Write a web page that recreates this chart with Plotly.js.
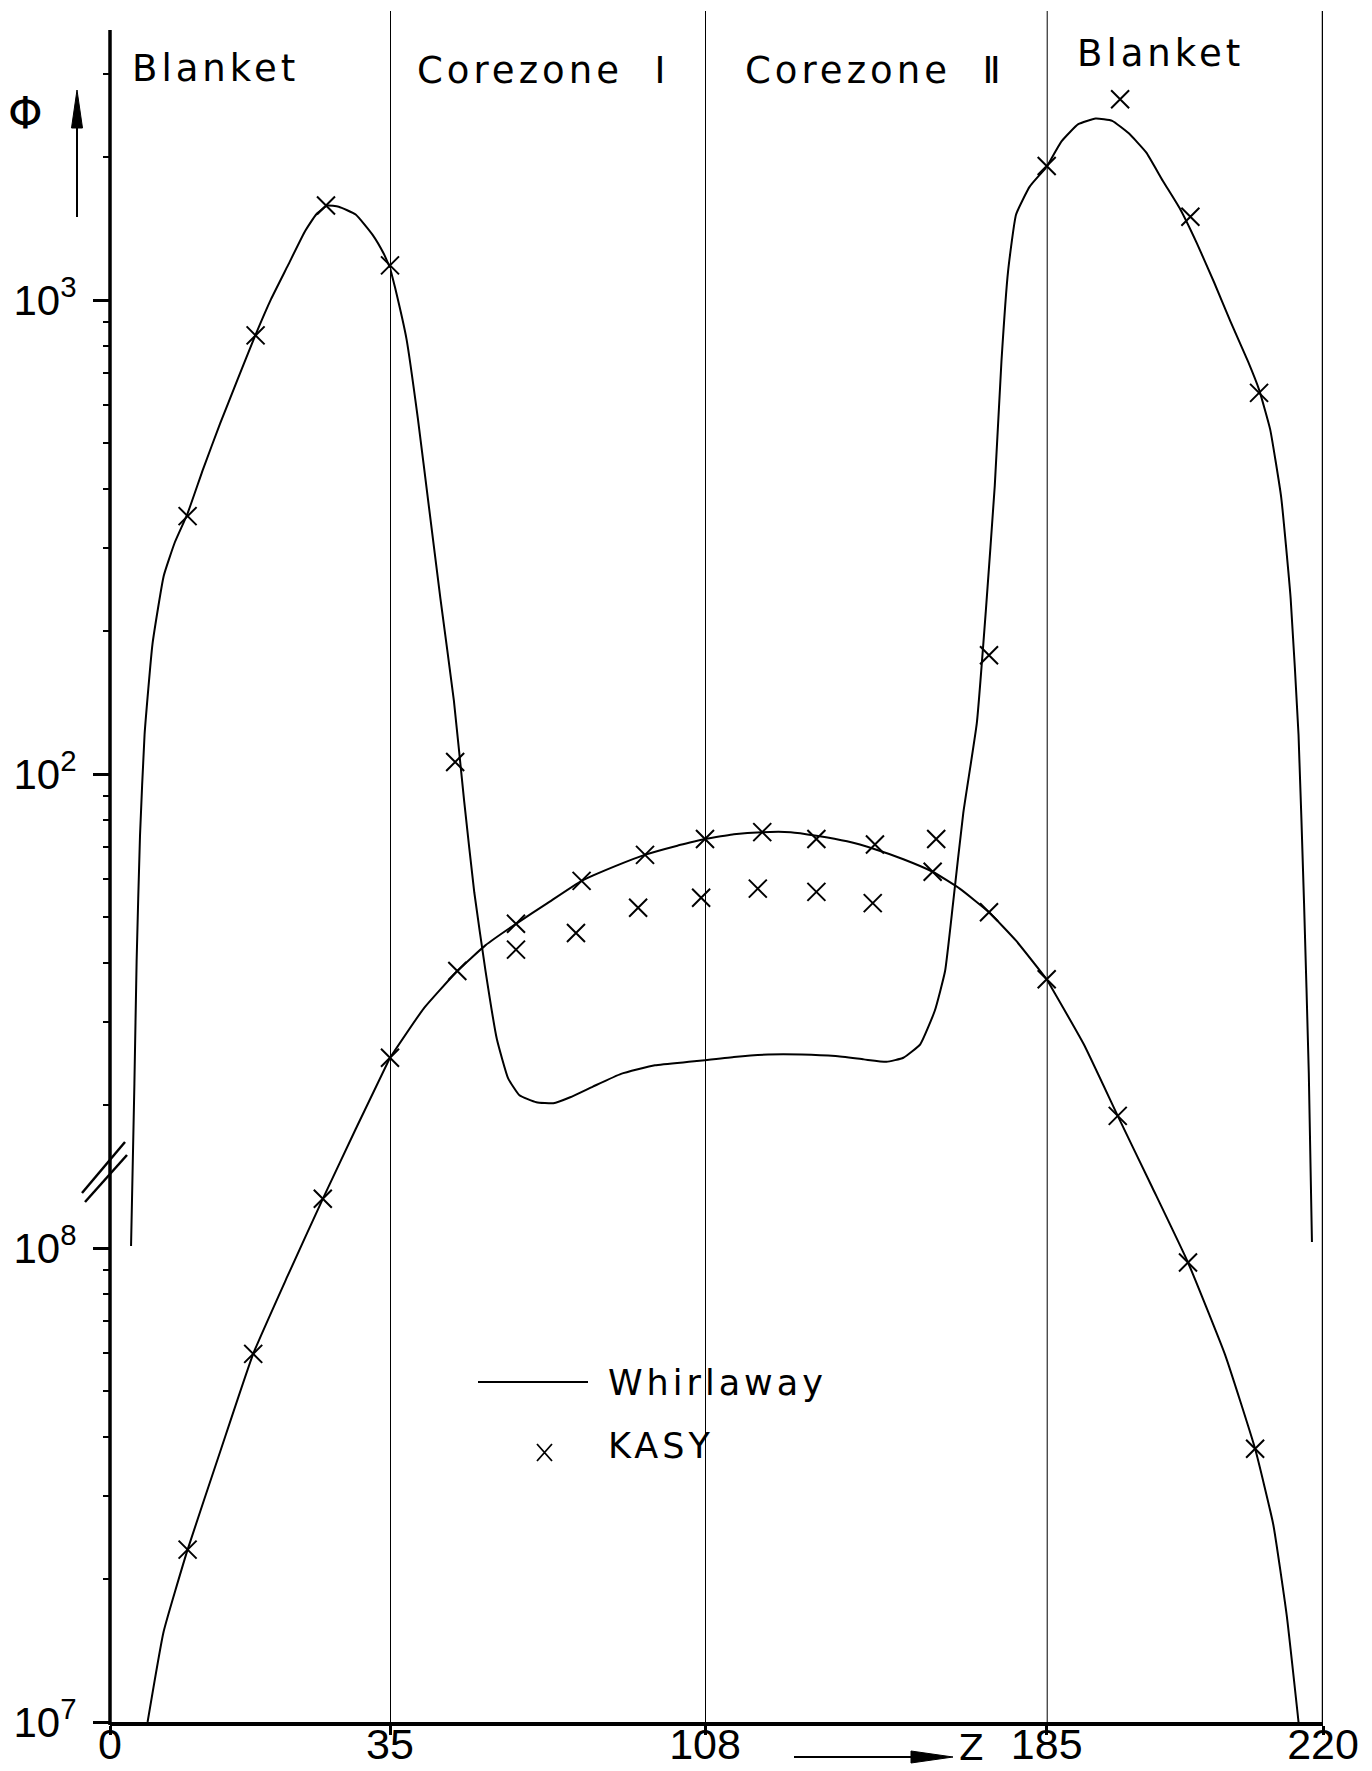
<!DOCTYPE html>
<html>
<head>
<meta charset="utf-8">
<script src="https://cdn.plot.ly/plotly-3.0.1.min.js"></script>
<style>
  html, body { margin: 0; padding: 0; background: #fff; }
  #chart { width: 1372px; height: 1771px; }
  .annotation-text { letter-spacing: 4px; }
</style>
</head>
<body>
<div id="chart"></div>
<script>
// Axial flux distribution Φ(z): Whirlaway (lines) vs. KASY (crosses)
// z in cm; the axis is split into four zones with their own scale.
const zoneEdges = [0, 35, 108, 185, 220];
const zoneNames = ['Blanket', 'Corezone\u00a0\u00a0\u2160', 'Corezone\u00a0\u00a0\u2161', 'Blanket'];

// Lower group (left scale 10^7 ... 10^8 ...)
const whirlLowZ = [4.7, 6.7, 9.7, 13.8, 17.9, 22.2, 26.6, 30.7, 35, 42.8, 50.6, 57.1, 64.2, 71.5, 79.4, 87.2, 94.0, 101.6, 108,
  114.5, 120.9, 127.3, 133.1, 140.0, 146.3, 152.7, 159.3, 165.4, 172.0, 178.1, 185,
  189.7, 194.0, 198.3, 202.9, 207.6, 211.4, 213.7, 215.4, 216.9];
const whirlLowPhi = [1.0e7, 1.55e7, 2.31e7, 3.73e7, 5.98e7, 8.73e7, 1.27e8, 1.78e8, 2.52e8, 3.20e8, 3.84e8, 4.35e8, 4.83e8, 5.34e8, 5.95e8, 6.39e8, 6.75e8, 7.06e8, 7.29e8,
  7.46e8, 7.54e8, 7.54e8, 7.41e8, 7.21e8, 6.94e8, 6.61e8, 6.22e8, 5.73e8, 5.11e8, 4.45e8, 3.69e8,
  2.69e8, 1.90e8, 1.35e8, 9.32e7, 5.95e7, 3.77e7, 2.61e7, 1.68e7, 1.0e7];
const kasyLowZ = [9.7, 17.9, 26.6, 35, 50.6, 64.2, 79.4, 94.1, 108, 120.9, 133.1, 146.3, 159.3, 172.0, 185, 194.0, 202.9, 211.4];
const kasyLowPhi = [2.31e7, 5.98e7, 1.27e8, 2.52e8, 3.84e8, 4.83e8, 5.95e8, 6.75e8, 7.29e8, 7.54e8, 7.29e8, 7.10e8, 6.22e8, 5.11e8, 3.69e8, 1.90e8, 9.32e7, 3.77e7];

// Upper group (scale 10^2, 10^3)
const whirlHighZ = [2.63, 3.05, 3.33, 3.75, 4.32, 5.31, 6.72, 8.13, 9.68, 11.66, 13.77, 15.89, 18.15, 20.13, 22.24, 24.36, 25.77, 27.18, 28.59, 30.71, 32.83, 34.24, 35,
  36.2, 38.82, 41.44, 44.06, 46.67, 49.8, 52.2, 54.53, 57.14, 59.76, 62.38, 65.0, 68.92, 72.85, 76.77, 82.01, 88.55, 96.4, 104.25, 108,
  114.5, 122.2, 129.8, 137.4, 143.8, 148.9, 152.7, 156.5, 159.8, 162.1, 163.9, 166.2, 169.25, 171.3, 173.3, 174.8, 176.3, 178.1, 181.2, 185,
  186.9, 189.0, 191.2, 193.3, 195.4, 197.6, 199.7, 201.9, 204.0, 206.2, 208.3, 210.5, 211.9, 213.3, 214.7, 215.9, 216.9, 217.6, 218.2, 218.6];
const whirlHighPhi = [10.1, 22.2, 40.5, 74.1, 121, 188, 262, 309, 354, 441, 549, 676, 841, 1004, 1183, 1395, 1515, 1582, 1573, 1515, 1372, 1250, 1170,
  1060, 828, 564, 364, 235, 143, 87.4, 56.3, 38.4, 27.6, 22.8, 21.0, 20.3, 20.2, 20.8, 21.9, 23.3, 24.3, 24.7, 24.9,
  25.3, 25.6, 25.6, 25.4, 25.0, 24.7, 25.2, 26.9, 31.7, 38.4, 53.4, 82.7, 128, 222, 406, 742, 1151, 1515, 1737, 1907,
  2163, 2349, 2414, 2388, 2247, 2048, 1785, 1556, 1320, 1090, 899, 742, 647, 534, 384, 235, 121, 53.4, 23.4, 10.3];
const kasyHighZ = [9.7, 18.2, 27.0, 35, 50.1, 64.2, 78.1, 92.5, 107.1, 119.9, 133.1, 145.8, 160.1, 172.0, 185, 194.3, 203.2, 211.9];
const kasyHighPhi = [350, 842, 1583, 1183, 106, 42.6, 46.2, 52.2, 54.8, 57.3, 56.4, 53.4, 72.9, 178, 1917, 2651, 1498, 637];

// Tick labels
const xTickVals = [[0, 35], [108], [185], [220]];
const yLowTicks = [1e7, 1e8];
const yLowText = ['10<sup>7</sup>', '10<sup>8</sup>'];
const yHighTicks = [100, 1000];
const yHighText = ['10<sup>2</sup>', '10<sup>3</sup>'];

// ---- page geometry ----
const W = 1372, H = 1771;
const ML = 110, MR = 49, MT = 12, MB = 49;
const PW = W - ML - MR, PH = H - MT - MB;
const px = X => (X - ML) / PW;
const py = Y => (H - MB - Y) / PH;
const edgePx = [110, 390, 705, 1046.7, 1323];
const domains = edgePx.slice(0, 4).map((e, i) => [px(e), px(edgePx[i + 1])]);
const decadePx = 474;
const yTop = PH / decadePx;             // decades visible above the bottom tick
const axisTopDec = (PH - 18) / decadePx; // the drawn axis line stops a little below the top

const numFont = "'Liberation Sans Narrow', 'Liberation Sans', Arial, sans-serif";
const txtFont = "'DejaVu Sans', sans-serif";
const axisIds = ['x', 'x2', 'x3', 'x4'];

function pick(zs, vs, lo, hi, closedHi) {
  const x = [], y = [];
  zs.forEach((z, i) => {
    if (z >= lo && (closedHi ? z <= hi : z < hi)) { x.push(z); y.push(vs[i]); }
  });
  return { x, y };
}

const traces = [];
for (let k = 0; k < 4; k++) {
  const lo = zoneEdges[k], hi = zoneEdges[k + 1];
  const last = k === 3;
  const lineStyle = { color: '#000', width: 2, shape: 'spline', smoothing: 0.4 };
  const markStyle = { symbol: 'x-thin', size: 18, color: '#000', line: { color: '#000', width: 2 } };
  const wl = pick(whirlLowZ, whirlLowPhi, lo, hi, true);
  const wh = pick(whirlHighZ, whirlHighPhi, lo, hi, true);
  const kl = pick(kasyLowZ, kasyLowPhi, lo, hi, last);
  const kh = pick(kasyHighZ, kasyHighPhi, lo, hi, last);
  traces.push({ type: 'scatter', mode: 'lines', name: 'Whirlaway', x: wl.x, y: wl.y, xaxis: axisIds[k], yaxis: 'y', line: lineStyle, cliponaxis: false });
  traces.push({ type: 'scatter', mode: 'lines', name: 'Whirlaway', x: wh.x, y: wh.y, xaxis: axisIds[k], yaxis: 'y2', line: lineStyle, cliponaxis: false });
  traces.push({ type: 'scatter', mode: 'markers', name: 'KASY', x: kl.x, y: kl.y, xaxis: axisIds[k], yaxis: 'y', marker: markStyle, cliponaxis: false });
  traces.push({ type: 'scatter', mode: 'markers', name: 'KASY', x: kh.x, y: kh.y, xaxis: axisIds[k], yaxis: 'y2', marker: markStyle, cliponaxis: false });
}

// minor log ticks (2..9 in every decade) along the drawn axis
const minorVals = [];
for (let e = 7; e <= 10; e++) for (let d = 2; d <= 9; d++) {
  const v = d * Math.pow(10, e);
  if (Math.log10(v) < 7 + axisTopDec) minorVals.push(v);
}

const layout = {
  width: W, height: H,
  margin: { l: ML, r: MR, t: MT, b: MB, pad: 0 },
  paper_bgcolor: '#fff', plot_bgcolor: '#fff',
  showlegend: false,
  font: { family: txtFont, color: '#000' },
  yaxis: {
    type: 'log', range: [7, 7 + yTop], anchor: 'x',
    tickmode: 'array', tickvals: yLowTicks, ticktext: yLowText,
    ticks: 'outside', ticklen: 16, tickwidth: 3, tickcolor: '#000',
    ticklabelstandoff: 8,
    tickfont: { family: numFont, size: 42, color: '#000' },
    minor: { tickmode: 'array', tickvals: minorVals, ticks: 'outside', ticklen: 6, tickwidth: 2, tickcolor: '#000', showgrid: false },
    showgrid: false, zeroline: false, showline: false
  },
  yaxis2: {
    type: 'log', range: [0, yTop], overlaying: 'y', side: 'left', anchor: 'x',
    tickmode: 'array', tickvals: yHighTicks, ticktext: yHighText,
    ticks: 'outside', ticklen: 16, tickwidth: 3, tickcolor: '#000',
    ticklabelstandoff: 8,
    tickfont: { family: numFont, size: 42, color: '#000' },
    showgrid: false, zeroline: false, showline: false
  },
  shapes: [], annotations: []
};

axisIds.forEach((id, k) => {
  const key = k === 0 ? 'xaxis' : 'xaxis' + (k + 1);
  layout[key] = {
    domain: domains[k], range: [zoneEdges[k], zoneEdges[k + 1]], anchor: 'y',
    tickmode: 'array', tickvals: xTickVals[k], ticktext: xTickVals[k].map(String),
    ticks: 'outside', ticklen: 9, tickwidth: 3, tickcolor: '#000',
    ticklabelstandoff: -27,
    tickfont: { family: numFont, size: 43, color: '#000' },
    showline: true, linewidth: 3.5, linecolor: '#000',
    showgrid: false, zeroline: false
  };
});

const S = layout.shapes, A = layout.annotations;
const blk = { color: '#000', width: 2 };

// zone boundaries and right border
[[1, 35], [2, 108], [3, 185], [3, 220]].forEach(([k, z]) => {
  S.push({ type: 'line', xref: axisIds[k], yref: 'paper', x0: z, x1: z, y0: 0, y1: py(11), line: { color: '#000', width: z === 220 ? 2.5 : 2 } });
});
// left axis line
S.push({ type: 'line', xref: 'paper', yref: 'paper', x0: 0, x1: 0, y0: py(1725), y1: py(30), line: { color: '#000', width: 3.5 } });
// axis break mark
S.push({ type: 'line', xref: 'paper', yref: 'paper', x0: px(82), y0: py(1193), x1: px(125), y1: py(1142), line: { color: '#000', width: 2.5 } });
S.push({ type: 'line', xref: 'paper', yref: 'paper', x0: px(85), y0: py(1202), x1: px(127), y1: py(1155), line: { color: '#000', width: 2.5 } });
// Φ arrow
S.push({ type: 'line', xref: 'paper', yref: 'paper', x0: px(77), y0: py(217), x1: px(77), y1: py(125), line: blk });
S.push({ type: 'path', xref: 'paper', yref: 'paper', fillcolor: '#000', line: { color: '#000', width: 1 },
  path: `M${px(77)},${py(90)} L${px(71.5)},${py(128)} L${px(82.5)},${py(128)} Z` });
// z arrow
S.push({ type: 'line', xref: 'paper', yref: 'paper', x0: px(794), y0: py(1757), x1: px(915), y1: py(1757), line: blk });
S.push({ type: 'path', xref: 'paper', yref: 'paper', fillcolor: '#000', line: { color: '#000', width: 1 },
  path: `M${px(953)},${py(1757)} L${px(911)},${py(1751)} L${px(911)},${py(1763)} Z` });
// key
S.push({ type: 'line', xref: 'paper', yref: 'paper', x0: px(478), y0: py(1382), x1: px(588), y1: py(1382), line: blk });
S.push({ type: 'path', xref: 'paper', yref: 'paper', line: { color: '#000', width: 1.8 },
  path: `M${px(537)},${py(1444)} L${px(552)},${py(1461)} M${px(552)},${py(1444)} L${px(537)},${py(1461)}` });

// zone captions
const capPos = [[130, 69], [415, 70], [743, 70], [1075, 54]];
zoneNames.forEach((t, i) => {
  A.push({ text: t, xref: 'paper', yref: 'paper', x: px(capPos[i][0]), y: py(capPos[i][1]), xanchor: 'left', yanchor: 'middle', showarrow: false, font: { family: txtFont, size: 37, color: '#000' } });
});
// axis symbols
A.push({ text: 'Φ', xref: 'paper', yref: 'paper', x: px(27), y: py(114), xanchor: 'center', yanchor: 'middle', showarrow: false, font: { family: txtFont, size: 44, color: '#000' } });
A.push({ text: 'Z', xref: 'paper', yref: 'paper', x: px(957), y: py(1748), xanchor: 'left', yanchor: 'middle', showarrow: false, font: { family: txtFont, size: 36, color: '#000' } });
// key texts
A.push({ text: 'Whirlaway', xref: 'paper', yref: 'paper', x: px(606), y: py(1383), xanchor: 'left', yanchor: 'middle', showarrow: false, font: { family: txtFont, size: 35, color: '#000' } });
A.push({ text: 'KASY', xref: 'paper', yref: 'paper', x: px(606), y: py(1446), xanchor: 'left', yanchor: 'middle', showarrow: false, font: { family: txtFont, size: 35, color: '#000' } });

Plotly.newPlot('chart', traces, layout, { staticPlot: true, displayModeBar: false });
</script>
</body>
</html>
